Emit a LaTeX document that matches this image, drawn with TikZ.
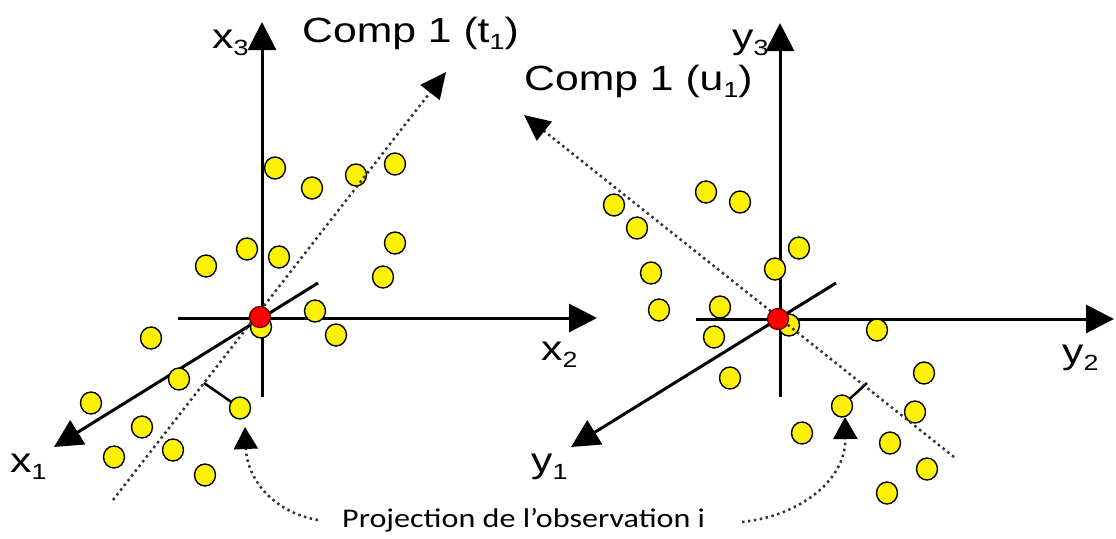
\documentclass[tikz,border=0pt]{standalone}
\usepackage{graphicx}
\usepackage{fontspec}
\setmainfont{Liberation Sans}
\newfontfamily\calfont{Carlito}
\usetikzlibrary{arrows.meta,shapes.geometric}
\pgfdeclarelayer{bg}
\pgfsetlayers{bg,main}
\newcommand\lsub[1]{\raisebox{-0.22em}{\fontsize{22}{24}\selectfont #1}}
\newcommand\wide[1]{\scalebox{1.22}[1]{#1}}
\begin{document}
\begin{tikzpicture}[x=1pt,y=-1pt,
  axis/.style={line width=3pt,-{Triangle[length=28pt,width=28pt]}},
  comp/.style={line width=2.5pt,black!80,dash pattern=on 2.5pt off 3.5pt,-{Triangle[length=26pt,width=24pt,color=black]}},
  link/.style={line width=2.5pt,black!80,dash pattern=on 2.5pt off 3.5pt,-{Triangle[length=22pt,width=24pt,color=black]}},
  foot/.style={line width=2.5pt},
  obs/.style={ellipse,draw=black,fill=yellow,line width=1.4pt,minimum width=21pt,minimum height=22pt,inner sep=0pt},
  ctr/.style={circle,draw=black!60!red,fill=red,line width=1.3pt,minimum size=21pt,inner sep=0pt},
  lab/.style={font=\fontsize{35}{40}\selectfont,inner sep=0pt,anchor=base west},
  note/.style={font=\calfont\fontsize{27}{32}\selectfont,inner sep=0pt,anchor=base west}]
\useasboundingbox (0,0) rectangle (1116,538);
% left frame coordinates
\coordinate (Lx3top) at (262,22);
\coordinate (Lx3bot) at (262,397);
\coordinate (Lx2L) at (178,318);
\coordinate (Lx2R) at (597,318);
\coordinate (Lx1a) at (318,283);
\coordinate (Lx1b) at (54,447);
\coordinate (Lc1) at (113,500);
\coordinate (Lc2) at (446,72);
\coordinate (Lfoot) at (204,383);
% right frame coordinates
\coordinate (Ry3top) at (780,23);
\coordinate (Ry3bot) at (780,397);
\coordinate (Ry2L) at (696,319);
\coordinate (Ry2R) at (1114,319);
\coordinate (Ry1a) at (836,283);
\coordinate (Ry1b) at (571,447);
\coordinate (Rc1) at (954,457);
\coordinate (Rc2) at (524,115);
\coordinate (Rfoot) at (867,383);
% observations
\foreach \p [count=\i] in {(275,168),(312,188),(356,175),(395,164),(247,249),(279,257),(206,266),(395,243),(383,277),(315,311),(336,335),(261,327),(151,338),(179,379),(91,403),(240,408),(142,427),(114,457),(173,450),(205,475)}
  \node[obs] (l\i) at \p {};
\foreach \p [count=\i] in {(706,192),(740,202),(614,205),(637,228),(799,248),(651,273),(775,269),(659,310),(720,307),(789,325),(714,337),(877,330),(730,378),(924,373),(842,406),(915,412),(802,433),(890,443),(927,469),(887,493)}
  \node[obs] (r\i) at \p {};
% comp directions
\draw[comp] (Lc1) -- (Lc2);
\draw[comp] (Rc1) -- (Rc2);
% centres
\node[ctr] (oL) at (260,317) {};
\node[ctr] (oR) at (778,319) {};
\begin{pgfonlayer}{bg}
  \draw[axis] (Lx3bot) -- (Lx3top);
  \draw[axis] (Lx2L) -- (Lx2R);
  \draw[axis] (Lx1a) -- (Lx1b);
  \draw[axis] (Ry3bot) -- (Ry3top);
  \draw[axis] (Ry2L) -- (Ry2R);
  \draw[axis] (Ry1a) -- (Ry1b);
  \draw[foot] (Lfoot) -- (l16.center);
  \draw[foot] (Rfoot) -- (r15.center);
\end{pgfonlayer}
% labels
\node[lab] (tx3) at (212,48) {\wide{x\lsub{3}}};
\node[lab] (tx2) at (541,360) {\wide{x\lsub{2}}};
\node[lab] (tx1) at (10,472) {\wide{x\lsub{1}}};
\node[lab] (ty3) at (732,48) {\wide{y\lsub{3}}};
\node[lab] (ty2) at (1062,363) {\wide{y\lsub{2}}};
\node[lab] (ty1) at (531,472) {\wide{y\lsub{1}}};
\node[lab] (tc1) at (302,42) {\wide{Comp 1 (t\lsub{1})}};
\node[lab] (tc2) at (524,90) {\wide{Comp 1 (u\lsub{1})}};
\node[note] (proj) at (342,527) {\scalebox{1.19}[1]{Projection de l’observation i}};
% projection pointers
\coordinate (sL) at (318,520);
\coordinate (tipL) at (245,427);
\coordinate (sR) at (742,522);
\coordinate (tipR) at (845,417);
\draw[link] (sL) .. controls (272,512) and (247,478) .. (tipL);
\draw[link] (sR) .. controls (800,516) and (846,480) .. (tipR);
\end{tikzpicture}
\end{document}
